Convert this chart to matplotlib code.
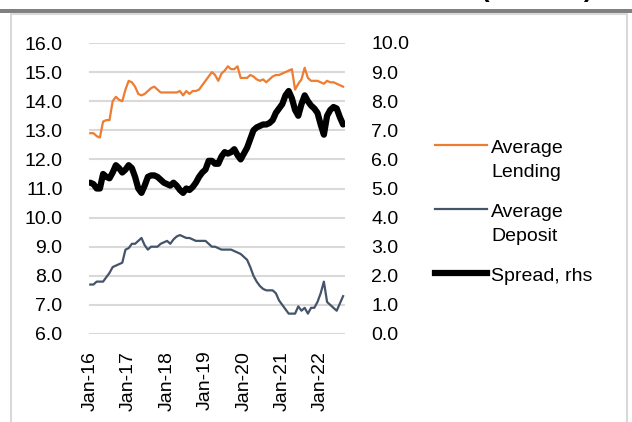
import matplotlib
matplotlib.use("Agg")
import matplotlib.pyplot as plt
from matplotlib.lines import Line2D
from matplotlib.patches import Rectangle

plt.rcParams['font.family'] = ['Liberation Sans', 'DejaVu Sans']

# Monthly data Jan-2016 .. Aug-2022
lending = [12.9, 12.9, 12.8, 12.75, 13.3, 13.35, 13.35, 14.0, 14.15, 14.05,
           14.0, 14.4, 14.7, 14.65, 14.5, 14.25, 14.2, 14.25, 14.35, 14.45,
           14.5, 14.4, 14.3, 14.3, 14.3, 14.3, 14.3, 14.3, 14.35, 14.2,
           14.35, 14.25, 14.35, 14.35, 14.4, 14.55, 14.7, 14.85, 15.0, 14.9,
           14.7, 14.95, 15.05, 15.2, 15.1, 15.1, 15.2, 14.8, 14.8, 14.8,
           14.9, 14.85, 14.75, 14.7, 14.75, 14.65, 14.75, 14.85, 14.9, 14.9,
           14.95, 15.0, 15.05, 15.1, 14.4, 14.6, 14.75, 15.15, 14.8, 14.7,
           14.7, 14.7, 14.65, 14.6, 14.7, 14.65, 14.65, 14.6, 14.55, 14.5]

deposit = [7.7, 7.7, 7.8, 7.8, 7.8, 7.95, 8.1, 8.3, 8.35, 8.4,
           8.45, 8.9, 8.95, 9.1, 9.1, 9.2, 9.3, 9.05, 8.9, 9.0,
           9.0, 9.0, 9.1, 9.15, 9.2, 9.1, 9.25, 9.35, 9.4, 9.35,
           9.3, 9.3, 9.25, 9.2, 9.2, 9.2, 9.2, 9.1, 9.0, 9.0,
           8.95, 8.9, 8.9, 8.9, 8.9, 8.85, 8.8, 8.75, 8.65, 8.55,
           8.3, 8.0, 7.8, 7.65, 7.55, 7.5, 7.5, 7.5, 7.4, 7.15,
           7.0, 6.85, 6.7, 6.7, 6.7, 6.95, 6.8, 6.9, 6.7, 6.9,
           6.9, 7.1, 7.4, 7.8, 7.1, 7.0, 6.9, 6.8, 7.05, 7.3]

spread = [5.2, 5.15, 5.0, 5.0, 5.5, 5.4, 5.35, 5.55, 5.8, 5.7,
          5.55, 5.65, 5.8, 5.7, 5.4, 5.0, 4.85, 5.1, 5.4, 5.45,
          5.45, 5.4, 5.3, 5.2, 5.15, 5.1, 5.2, 5.1, 4.95, 4.85,
          5.0, 4.95, 5.05, 5.2, 5.4, 5.55, 5.65, 5.95, 5.95, 5.85,
          5.85, 6.1, 6.25, 6.2, 6.25, 6.35, 6.15, 6.0, 6.2, 6.4,
          6.7, 7.0, 7.1, 7.15, 7.2, 7.2, 7.25, 7.35, 7.6, 7.75,
          7.9, 8.2, 8.35, 8.1, 7.7, 7.5, 7.9, 8.2, 8.0, 7.85,
          7.75, 7.6, 7.2, 6.85, 7.5, 7.7, 7.8, 7.75, 7.45, 7.2]

tick_labels = ["Jan-16", "Jan-17", "Jan-18", "Jan-19", "Jan-20", "Jan-21", "Jan-22"]
left_ticks = [6.0, 7.0, 8.0, 9.0, 10.0, 11.0, 12.0, 13.0, 14.0, 15.0, 16.0]
right_ticks = [0.0, 1.0, 2.0, 3.0, 4.0, 5.0, 6.0, 7.0, 8.0, 9.0, 10.0]

W, H = 632, 422
fig = plt.figure(figsize=(W / 100, H / 100), dpi=100)

# frame decorations
fig.patches.append(Rectangle((0, (H - 13) / H), 1, 4 / H, transform=fig.transFigure,
                             facecolor='#808080', edgecolor='none', zorder=0))
fig.patches.append(Rectangle((11 / W, -0.01), (627 - 11) / W, (H - 14) / H + 0.01,
                             transform=fig.transFigure, facecolor='none',
                             edgecolor='#D9D9D9', linewidth=1.5, zorder=0))
fig.text(481 / W, (H + 2.5) / H, "(Percent)", fontsize=18.7, fontweight='bold',
         ha='left', va='baseline', color='black')

left, right, bottom, top = 89, 345, 334, 43
ax = fig.add_axes([left / W, (H - bottom) / H, (right - left) / W, (bottom - top) / H])
ax2 = ax.twinx()

x = list(range(len(lending)))
ax.plot(x, lending, color='#ED7D31', linewidth=1.6, zorder=3)
ax.plot(x, deposit, color='#44546A', linewidth=1.6, zorder=3)
ax2.plot(x, spread, color='black', linewidth=4.5, solid_capstyle='round', zorder=3)

ax.set_ylim(6, 16)
ax2.set_ylim(0, 10)
ax.set_xlim(-0.4, 79.6)
ax.set_yticks(left_ticks)
ax.set_yticklabels([f"{v:.1f}" for v in left_ticks])
ax2.set_yticks(right_ticks)
ax2.set_yticklabels([f"{v:.1f}" for v in right_ticks])
ax.set_xticks([12 * i for i in range(len(tick_labels))])
ax.set_xticklabels(tick_labels, rotation=90)

ax.grid(axis='y', color='#D9D9D9', linewidth=1.5, zorder=0)
ax.set_axisbelow(True)
for a in (ax, ax2):
    for s in a.spines.values():
        s.set_visible(False)
    a.tick_params(length=0, labelsize=14, colors='black')
ax.tick_params(axis='y', pad=19)
ax2.tick_params(axis='y', pad=19)
ax.tick_params(axis='x', pad=12)

# legend (manual, Excel style)
def leg_line(y, color, lw):
    fig.add_artist(Line2D([435 / W, 487 / W], [(H - y) / H] * 2, color=color,
                          linewidth=lw, transform=fig.transFigure))

def leg_text(y, s):
    fig.text(491 / W, (H - y) / H, s, fontsize=14, ha='left', va='baseline')

leg_line(145, '#ED7D31', 1.6)
leg_text(153, "Average")
leg_text(177, "Lending")
leg_line(209, '#44546A', 1.6)
leg_text(217, "Average")
leg_text(241, "Deposit")
leg_line(273, 'black', 4.5)
leg_text(281, "Spread, rhs")

fig.savefig("out.png", dpi=100)
